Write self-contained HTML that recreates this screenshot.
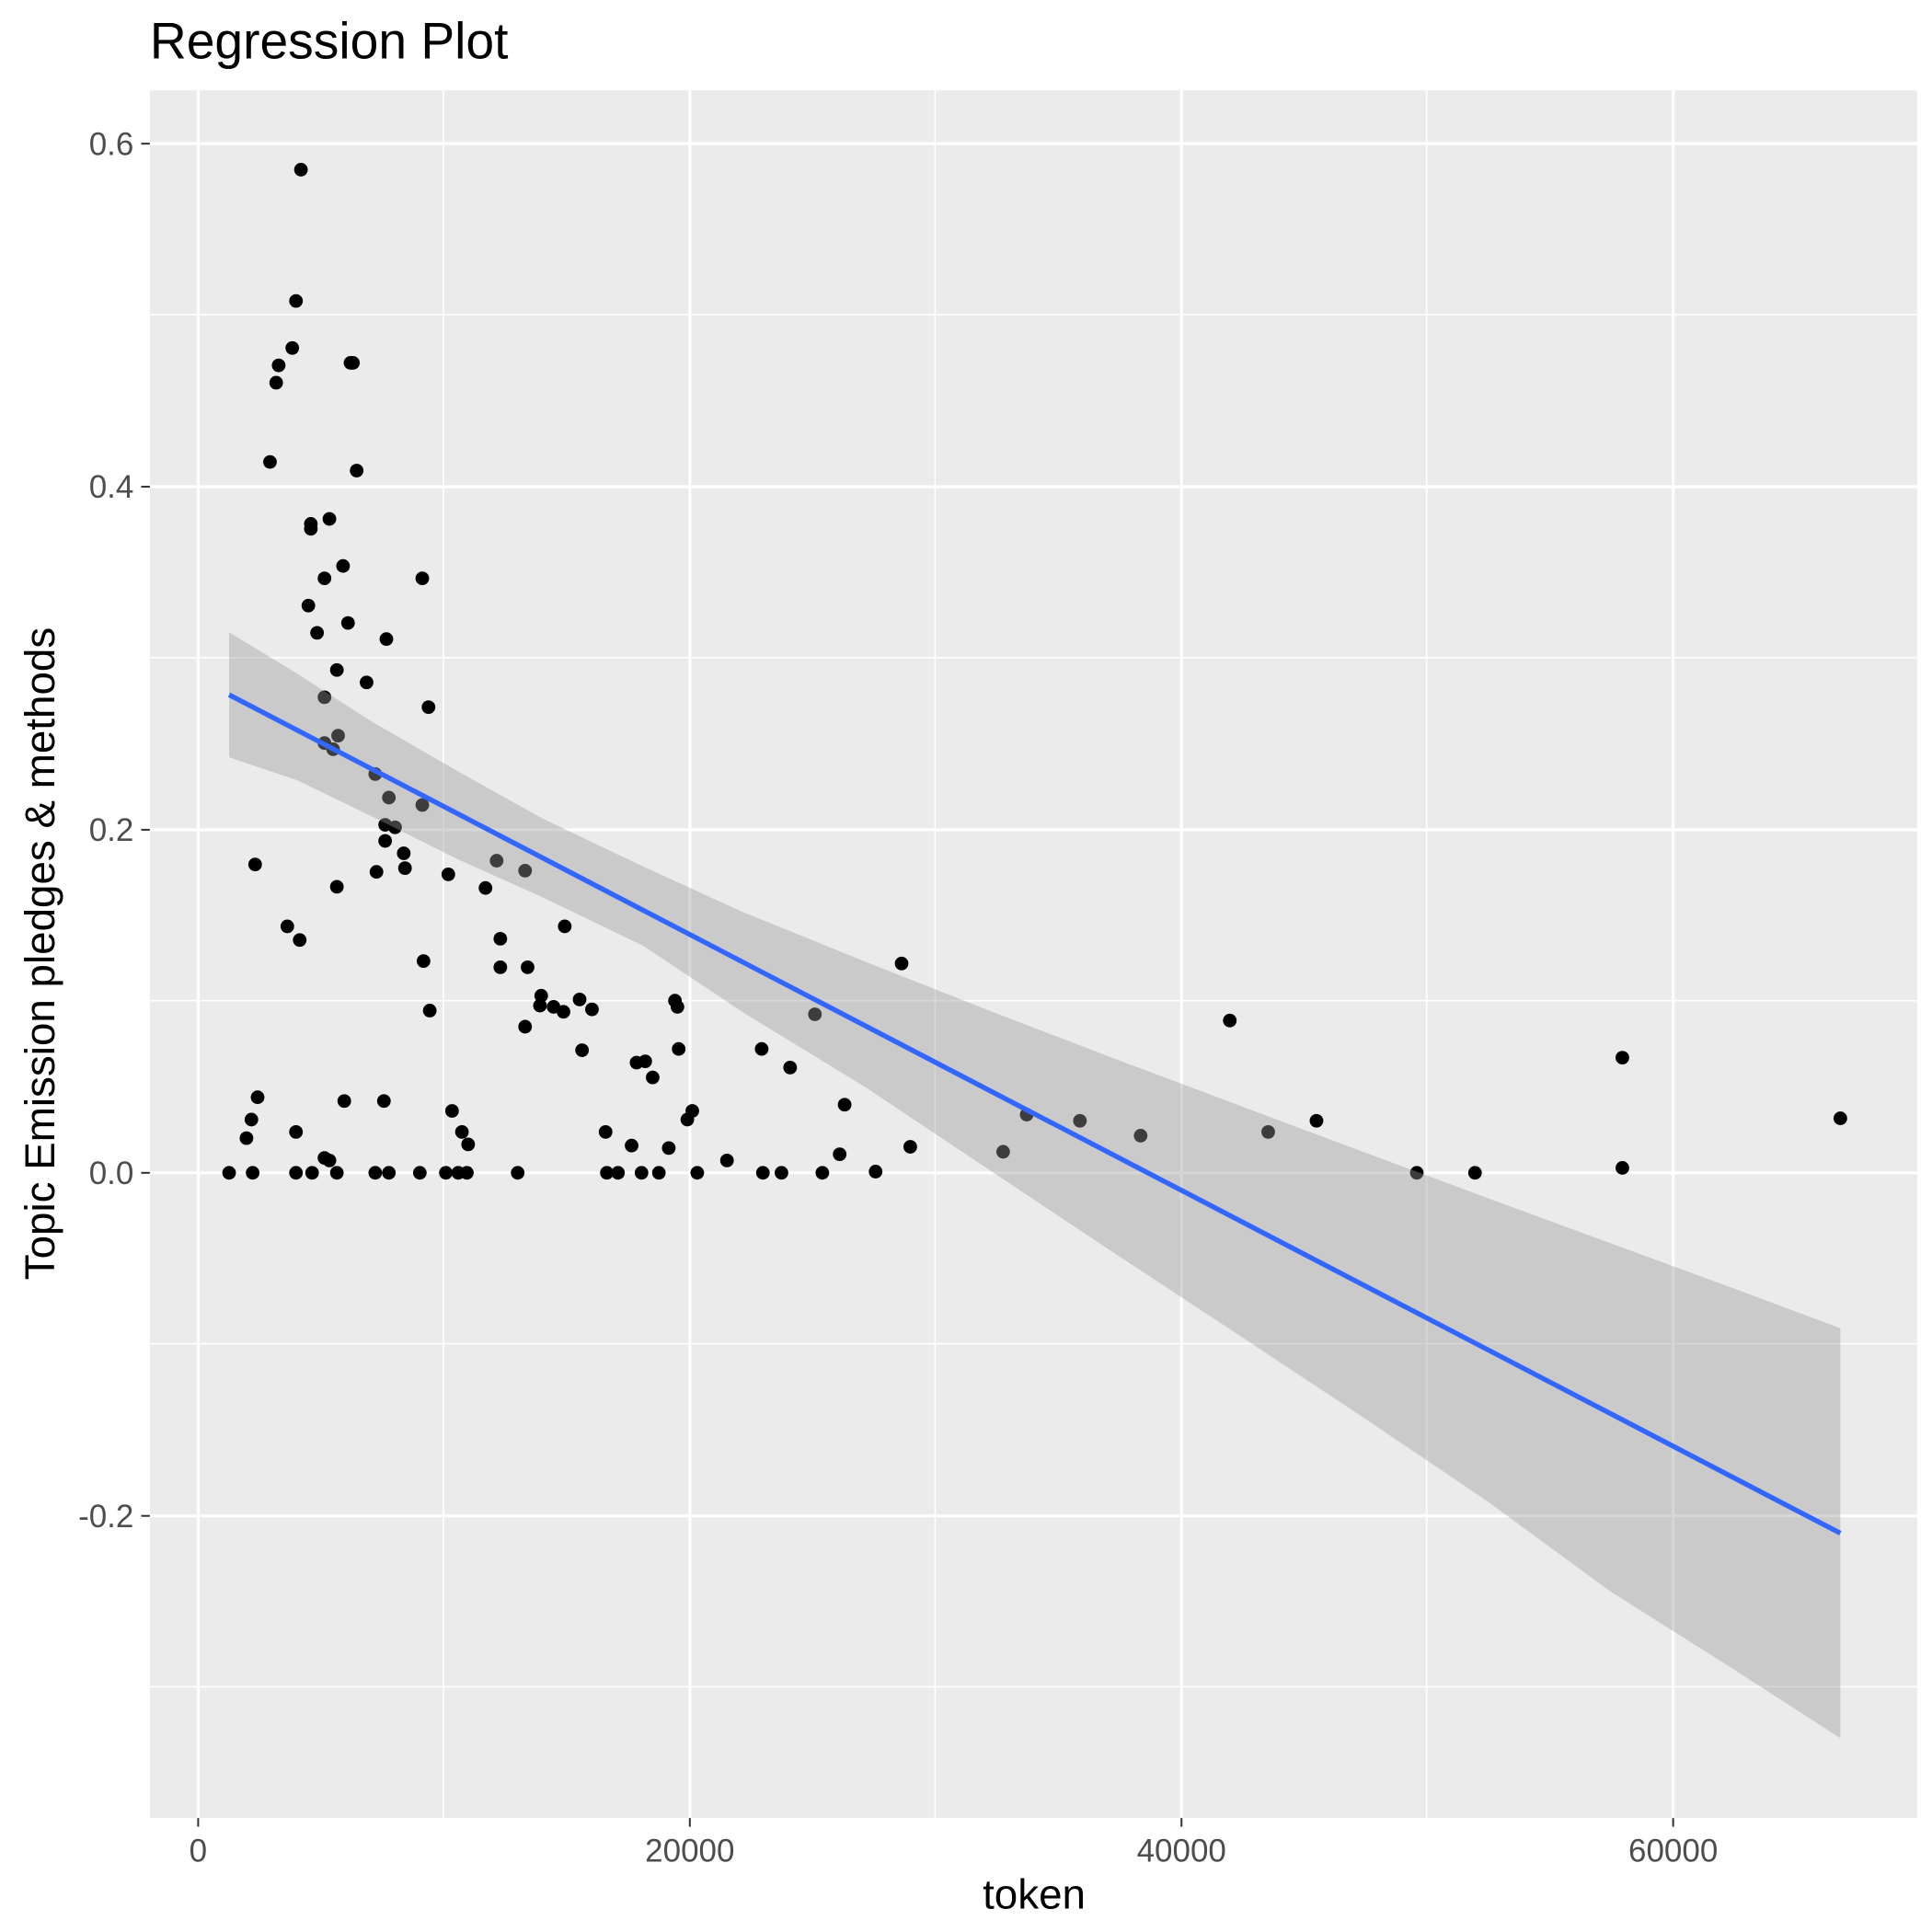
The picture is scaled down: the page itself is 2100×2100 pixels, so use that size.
<!DOCTYPE html>
<html><head><meta charset="utf-8"><style>html,body{margin:0;padding:0;background:#fff}svg{display:block}</style></head>
<body>
<svg width="2100" height="2100" viewBox="0 0 1560 1560" xmlns="http://www.w3.org/2000/svg" font-family="Liberation Sans, Arial, sans-serif">
<rect width="1560" height="1560" fill="#fff"/>
<rect x="121" y="73" width="1427" height="1395" fill="#ebebeb"/>
<g stroke="#fff" stroke-width="1.2">
<line x1="121" x2="1548" y1="254" y2="254"/><line x1="121" x2="1548" y1="531" y2="531"/><line x1="121" x2="1548" y1="808" y2="808"/><line x1="121" x2="1548" y1="1085" y2="1085"/><line x1="121" x2="1548" y1="1362" y2="1362"/>
<line y1="73" y2="1468" x1="358" x2="358"/><line y1="73" y2="1468" x1="755" x2="755"/><line y1="73" y2="1468" x1="1152" x2="1152"/>
</g>
<g stroke="#fff" stroke-width="2.4">
<line x1="121" x2="1548" y1="116" y2="116"/><line x1="121" x2="1548" y1="393" y2="393"/><line x1="121" x2="1548" y1="670" y2="670"/><line x1="121" x2="1548" y1="947" y2="947"/><line x1="121" x2="1548" y1="1224" y2="1224"/>
<line y1="73" y2="1468" x1="160" x2="160"/><line y1="73" y2="1468" x1="557" x2="557"/><line y1="73" y2="1468" x1="954" x2="954"/><line y1="73" y2="1468" x1="1351" x2="1351"/>
</g>
<g fill="#000">
<circle cx="185" cy="947" r="5.5"/><circle cx="199" cy="919" r="5.5"/><circle cx="203" cy="904" r="5.5"/><circle cx="204" cy="947" r="5.5"/><circle cx="206" cy="698" r="5.5"/><circle cx="208" cy="886" r="5.5"/><circle cx="218" cy="373" r="5.5"/><circle cx="223" cy="309" r="5.5"/><circle cx="225" cy="295" r="5.5"/><circle cx="232" cy="748" r="5.5"/><circle cx="236" cy="281" r="5.5"/><circle cx="239" cy="243" r="5.5"/><circle cx="239" cy="914" r="5.5"/><circle cx="239" cy="947" r="5.5"/><circle cx="242" cy="759" r="5.5"/><circle cx="243" cy="137" r="5.5"/><circle cx="249" cy="489" r="5.5"/><circle cx="251" cy="423" r="5.5"/><circle cx="251" cy="427" r="5.5"/><circle cx="252" cy="947" r="5.5"/><circle cx="256" cy="511" r="5.5"/><circle cx="262" cy="467" r="5.5"/><circle cx="262" cy="563" r="5.5"/><circle cx="262" cy="600" r="5.5"/><circle cx="262" cy="935" r="5.5"/><circle cx="266" cy="419" r="5.5"/><circle cx="266" cy="937" r="5.5"/><circle cx="269" cy="605" r="5.5"/><circle cx="272" cy="541" r="5.5"/><circle cx="272" cy="716" r="5.5"/><circle cx="272" cy="947" r="5.5"/><circle cx="273" cy="594" r="5.5"/><circle cx="277" cy="457" r="5.5"/><circle cx="278" cy="889" r="5.5"/><circle cx="281" cy="503" r="5.5"/><circle cx="283" cy="293" r="5.5"/><circle cx="285" cy="293" r="5.5"/><circle cx="288" cy="380" r="5.5"/><circle cx="296" cy="551" r="5.5"/><circle cx="303" cy="625" r="5.5"/><circle cx="303" cy="947" r="5.5"/><circle cx="304" cy="704" r="5.5"/><circle cx="310" cy="889" r="5.5"/><circle cx="311" cy="666" r="5.5"/><circle cx="311" cy="679" r="5.5"/><circle cx="312" cy="516" r="5.5"/><circle cx="314" cy="644" r="5.5"/><circle cx="314" cy="947" r="5.5"/><circle cx="319" cy="668" r="5.5"/><circle cx="326" cy="689" r="5.5"/><circle cx="327" cy="701" r="5.5"/><circle cx="339" cy="947" r="5.5"/><circle cx="341" cy="650" r="5.5"/><circle cx="341" cy="467" r="5.5"/><circle cx="342" cy="776" r="5.5"/><circle cx="346" cy="571" r="5.5"/><circle cx="347" cy="816" r="5.5"/><circle cx="360" cy="947" r="5.5"/><circle cx="362" cy="706" r="5.5"/><circle cx="365" cy="897" r="5.5"/><circle cx="370" cy="947" r="5.5"/><circle cx="373" cy="914" r="5.5"/><circle cx="377" cy="947" r="5.5"/><circle cx="378" cy="924" r="5.5"/><circle cx="392" cy="717" r="5.5"/><circle cx="401" cy="695" r="5.5"/><circle cx="404" cy="758" r="5.5"/><circle cx="404" cy="781" r="5.5"/><circle cx="418" cy="947" r="5.5"/><circle cx="424" cy="703" r="5.5"/><circle cx="424" cy="829" r="5.5"/><circle cx="426" cy="781" r="5.5"/><circle cx="436" cy="812" r="5.5"/><circle cx="437" cy="804" r="5.5"/><circle cx="447" cy="813" r="5.5"/><circle cx="455" cy="817" r="5.5"/><circle cx="456" cy="748" r="5.5"/><circle cx="468" cy="807" r="5.5"/><circle cx="470" cy="848" r="5.5"/><circle cx="478" cy="815" r="5.5"/><circle cx="489" cy="914" r="5.5"/><circle cx="490" cy="947" r="5.5"/><circle cx="499" cy="947" r="5.5"/><circle cx="510" cy="925" r="5.5"/><circle cx="514" cy="858" r="5.5"/><circle cx="518" cy="947" r="5.5"/><circle cx="521" cy="857" r="5.5"/><circle cx="527" cy="870" r="5.5"/><circle cx="532" cy="947" r="5.5"/><circle cx="540" cy="927" r="5.5"/><circle cx="545" cy="808" r="5.5"/><circle cx="547" cy="813" r="5.5"/><circle cx="548" cy="847" r="5.5"/><circle cx="555" cy="904" r="5.5"/><circle cx="559" cy="897" r="5.5"/><circle cx="563" cy="947" r="5.5"/><circle cx="587" cy="937" r="5.5"/><circle cx="615" cy="847" r="5.5"/><circle cx="616" cy="947" r="5.5"/><circle cx="631" cy="947" r="5.5"/><circle cx="638" cy="862" r="5.5"/><circle cx="658" cy="819" r="5.5"/><circle cx="664" cy="947" r="5.5"/><circle cx="678" cy="932" r="5.5"/><circle cx="682" cy="892" r="5.5"/><circle cx="707" cy="946" r="5.5"/><circle cx="728" cy="778" r="5.5"/><circle cx="735" cy="926" r="5.5"/><circle cx="810" cy="930" r="5.5"/><circle cx="829" cy="900" r="5.5"/><circle cx="872" cy="905" r="5.5"/><circle cx="921" cy="917" r="5.5"/><circle cx="993" cy="824" r="5.5"/><circle cx="1024" cy="914" r="5.5"/><circle cx="1063" cy="905" r="5.5"/><circle cx="1144" cy="947" r="5.5"/><circle cx="1191" cy="947" r="5.5"/><circle cx="1310" cy="854" r="5.5"/><circle cx="1310" cy="943" r="5.5"/><circle cx="1486" cy="903" r="5.5"/>
</g>
<polygon fill="#999" fill-opacity="0.4" points="185,510.5 240,544 300,582.5 370,623 438,660.9 520,700 600,736.5 700,777 800,816.5 900,854.8 1000,892.4 1100,929.8 1200,966.9 1300,1003.7 1400,1040.4 1486,1072.5 1486,1403.5 1400,1348 1300,1284.8 1200,1211.5 1100,1144 1000,1077.8 900,1012 800,945.5 700,878.6 600,817.5 520,764 438,724.5 370,694 300,659.1 240,630 185,611.5"/>
<line x1="185" y1="561" x2="1486" y2="1238" stroke="#3366ff" stroke-width="4"/>
<g stroke="#333" stroke-width="1.5">
<line x1="114" x2="121" y1="116" y2="116"/><line x1="114" x2="121" y1="393" y2="393"/><line x1="114" x2="121" y1="670" y2="670"/><line x1="114" x2="121" y1="947" y2="947"/><line x1="114" x2="121" y1="1224" y2="1224"/>
<line y1="1468" y2="1475" x1="160" x2="160"/><line y1="1468" y2="1475" x1="557" x2="557"/><line y1="1468" y2="1475" x1="954" x2="954"/><line y1="1468" y2="1475" x1="1351" x2="1351"/>
</g>
<g fill="#4d4d4d" font-size="26" text-anchor="end">
<text x="108" y="125">0.6</text><text x="108" y="402">0.4</text><text x="108" y="679">0.2</text><text x="108" y="956">0.0</text><text x="108" y="1233">-0.2</text>
</g>
<g fill="#4d4d4d" font-size="26" text-anchor="middle">
<text x="160" y="1503">0</text><text x="557" y="1503">20000</text><text x="954" y="1503">40000</text><text x="1351" y="1503">60000</text>
</g>
<text x="835" y="1541" font-size="34" text-anchor="middle" fill="#000">token</text>
<text transform="translate(44,770) rotate(-90)" font-size="34" text-anchor="middle" fill="#000">Topic Emission pledges &amp; methods</text>
<text x="121" y="47" font-size="41" fill="#000">Regression Plot</text>
</svg>
</body></html>
